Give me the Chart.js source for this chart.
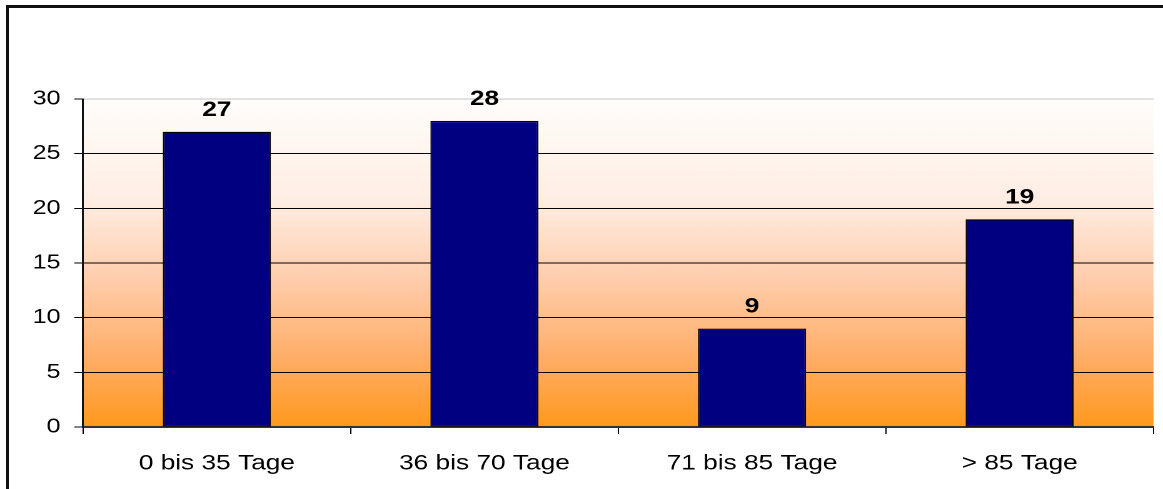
<!DOCTYPE html>
<html>
<head>
<meta charset="utf-8">
<script src="https://cdn.jsdelivr.net/npm/chart.js@4/dist/chart.umd.min.js"></script>
<style>
  html, body { margin: 0; padding: 0; background: #fff; overflow: hidden; }
  body { width: 1163px; height: 489px; position: relative; }
  #frame { position: absolute; left: 6px; top: 5px; width: 1200px; height: 520px;
           border-top: 3px solid #111; border-left: 3px solid #111; box-sizing: border-box; pointer-events: none; }
  #wrap { position: absolute; left: 0; top: 0; width: 930px; height: 489px;
          transform: scaleX(1.2505); transform-origin: 0 0; }
</style>
</head>
<body>
<div id="wrap"><canvas id="c"></canvas></div>
<div id="frame"></div>
<script>
const categories = ["0 bis 35 Tage", "36 bis 70 Tage", "71 bis 85 Tage", "> 85 Tage"];
const values = [27, 28, 9, 19];
const yTicks = [0, 5, 10, 15, 20, 25, 30];

const FONT = "'Liberation Sans', Arial, sans-serif";

const bgPlugin = {
  id: 'bg',
  beforeDraw(chart) {
    const { ctx, chartArea: a } = chart;
    const g = ctx.createLinearGradient(0, a.top, 0, a.bottom);
    g.addColorStop(0, 'rgb(255,253,251)');
    g.addColorStop(0.3, 'rgb(255,238,228)');
    g.addColorStop(0.55, 'rgb(255,205,172)');
    g.addColorStop(0.8, 'rgb(255,172,100)');
    g.addColorStop(1, 'rgb(255,152,28)');
    ctx.save();
    ctx.fillStyle = g;
    ctx.fillRect(a.left, a.top, a.right - a.left, a.bottom - a.top);
    ctx.restore();
  }
};

const labelPlugin = {
  id: 'vals',
  afterDatasetsDraw(chart) {
    const { ctx } = chart;
    const meta = chart.getDatasetMeta(0);
    ctx.save();
    ctx.font = "bold 21px " + FONT;
    ctx.fillStyle = '#000';
    ctx.textAlign = 'center';
    ctx.textBaseline = 'alphabetic';
    meta.data.forEach((el, i) => {
      ctx.fillText(String(values[i]), el.x, el.y - 16);
    });
    ctx.restore();
  }
};

new Chart(document.getElementById('c'), {
  type: 'bar',
  data: {
    labels: categories,
    datasets: [{
      data: values,
      backgroundColor: '#000080',
      borderColor: '#000',
      borderWidth: 1.2,
      borderSkipped: false,
      barPercentage: 0.404,
      categoryPercentage: 1.0
    }]
  },
  options: {
    responsive: true,
    maintainAspectRatio: false,
    devicePixelRatio: 2,
    animation: false,
    layout: { padding: { top: 99, right: 7.6, left: 0, bottom: 0 } },
    plugins: { legend: { display: false }, tooltip: { enabled: false } },
    scales: {
      x: {
        grid: { display: true, offset: true, drawOnChartArea: false, drawTicks: true,
                tickLength: 7, color: '#000', tickColor: '#000' },
        border: { display: true, color: '#333', width: 2 },
        ticks: { color: '#000', font: { family: FONT, size: 21 }, padding: 17, maxRotation: 0 },
        afterFit(scale) { scale.height = 62; }
      },
      y: {
        min: 0, max: 30,
        afterBuildTicks(scale) { scale.ticks = yTicks.map(v => ({ value: v })); },
        grid: {
          color: (c) => c.tick && c.tick.value === 30 ? '#c4c4c4' : (c.tick && c.tick.value === 0 ? 'rgba(0,0,0,0)' : '#000'),
          tickColor: '#000', tickLength: 7, lineWidth: 1
        },
        border: { display: true, color: '#111', width: 1.5 },
        ticks: { color: '#000', font: { family: FONT, size: 20 }, padding: 11 },
        afterFit(scale) { scale.width = 66.4; }
      }
    }
  },
  plugins: [bgPlugin, labelPlugin]
});
</script>
</body>
</html>
